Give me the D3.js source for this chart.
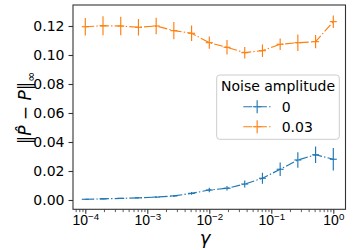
<!DOCTYPE html>
<html>
<head>
<meta charset="utf-8">
<script src="https://cdn.jsdelivr.net/npm/d3@7"></script>
<style>
  body { margin: 0; background: #fff; }
  svg { display: block; font-family: "DejaVu Sans", sans-serif; }
</style>
</head>
<body>
<div id="chart"></div>
<script>
// gamma values (log spaced, 15 points)
var gammas = [1e-4, 1.93e-4, 3.73e-4, 7.2e-4, 1.39e-3, 2.68e-3, 5.18e-3, 1e-2,
              1.93e-2, 3.73e-2, 7.2e-2, 0.139, 0.268, 0.518, 1];

// noise amplitude 0
var errClean = [0.0005, 0.0008, 0.0011, 0.0015, 0.0020, 0.0028, 0.0046, 0.0069,
                0.0081, 0.0110, 0.0150, 0.0212, 0.0276, 0.0312, 0.0281];
var sdClean = [0.0002, 0.0002, 0.0003, 0.0004, 0.0005, 0.0006, 0.0010, 0.0016,
               0.0015, 0.0024, 0.0038, 0.0047, 0.0054, 0.0057, 0.0078];

// noise amplitude 0.03
var errNoisy = [0.1195, 0.1202, 0.1200, 0.1191, 0.1200, 0.1168, 0.1150, 0.1085,
                0.1053, 0.1016, 0.1030, 0.1074, 0.1085, 0.1092, 0.1230];
var sdNoisy = [0.0060, 0.0066, 0.0064, 0.0057, 0.0057, 0.0059, 0.0053, 0.0042,
               0.0050, 0.0040, 0.0043, 0.0040, 0.0057, 0.0046, 0.0043];

var seriesNames = ["0", "0.03"];
var seriesColors = ["#1f77b4", "#ff7f0e"];

var xMajor = [1e-4, 1e-3, 1e-2, 1e-1, 1];
var xExp = ["\u22124", "\u22123", "\u22122", "\u22121", "0"];
var yTicks = [0, 0.02, 0.04, 0.06, 0.08, 0.10, 0.12];

var width = 353, height = 250;
var frame = { left: 73, right: 345.5, top: 5, bottom: 209.3 };

var svg = d3.select("#chart")
    .append("svg")
    .attr("width", width)
    .attr("height", height);

var x = d3.scaleLog()
    .domain([1e-4, 1])
    .range([85.3, 333.3]);

var y = d3.scaleLinear()
    .domain([0, 0.12])
    .range([200, 26]);

// minor ticks inside the frame
var xMinor = [];
[1e-5, 1e-4, 1e-3, 1e-2, 1e-1].forEach(function(d) {
    for (var k = 2; k < 10; k++) {
        var v = d * k;
        var px = x(v);
        if (px > frame.left && px < frame.right) xMinor.push(v);
    }
});

var dash = "8.9,2.2,1.4,2.2";
var lw = 1.15;

// series
var data = [
    { name: seriesNames[0], color: seriesColors[0], vals: errClean, sd: sdClean },
    { name: seriesNames[1], color: seriesColors[1], vals: errNoisy, sd: sdNoisy }
];

var line = d3.line()
    .x(function(d) { return x(d.g); })
    .y(function(d) { return y(d.v); });

data.forEach(function(s) {
    var pts = gammas.map(function(g, i) { return { g: g, v: s.vals[i], e: s.sd[i] }; });
    var g = svg.append("g");
    g.append("path")
        .datum(pts)
        .attr("d", line)
        .attr("fill", "none")
        .attr("stroke", s.color)
        .attr("stroke-width", lw)
        .attr("stroke-dasharray", dash);
    g.selectAll(".eb")
        .data(pts)
        .enter().append("line")
        .attr("x1", function(d) { return x(d.g); })
        .attr("x2", function(d) { return x(d.g); })
        .attr("y1", function(d) { return y(d.v - d.e); })
        .attr("y2", function(d) { return y(d.v + d.e); })
        .attr("stroke", s.color)
        .attr("stroke-width", lw);
    // short horizontal marker at each point
    g.selectAll(".mk")
        .data(pts)
        .enter().append("path")
        .attr("d", function(d) {
            var cx = x(d.g), cy = y(d.v), r = 3.5;
            return "M" + (cx - r) + "," + cy + "H" + (cx + r);
        })
        .attr("stroke", s.color)
        .attr("stroke-width", lw);
});

// frame
svg.append("rect")
    .attr("x", frame.left)
    .attr("y", frame.top)
    .attr("width", frame.right - frame.left)
    .attr("height", frame.bottom - frame.top)
    .attr("fill", "none")
    .attr("stroke", "#333")
    .attr("stroke-width", 1.1);

// x axis
var xAxisMinor = d3.axisBottom(x)
    .tickValues(xMinor)
    .tickSize(2.8)
    .tickFormat("");
var gxm = svg.append("g")
    .attr("transform", "translate(0," + frame.bottom + ")")
    .call(xAxisMinor);
gxm.select(".domain").remove();
gxm.selectAll("line").attr("stroke", "#333").attr("stroke-width", 0.8);

var xAxis = d3.axisBottom(x)
    .tickValues(xMajor)
    .tickSize(4.5)
    .tickFormat("");
var gx = svg.append("g")
    .attr("transform", "translate(0," + frame.bottom + ")")
    .call(xAxis);
gx.select(".domain").remove();
gx.selectAll("line").attr("stroke", "#333").attr("stroke-width", 1.1);

gx.selectAll(".tick").each(function(d, i) {
    var t = d3.select(this).append("text")
        .attr("fill", "#000")
        .attr("font-size", 14)
        .attr("text-anchor", "middle")
        .attr("y", 16.2);
    t.append("tspan").text("10");
    t.append("tspan")
        .attr("font-size", 9.7)
        .attr("dy", -5.6)
        .text(xExp[i]);
});

// y axis
var yAxis = d3.axisLeft(y)
    .tickValues(yTicks)
    .tickSize(4.5)
    .tickPadding(4)
    .tickFormat(d3.format(".2f"));
var gy = svg.append("g")
    .attr("transform", "translate(" + frame.left + ",0)")
    .call(yAxis);
gy.select(".domain").remove();
gy.selectAll("line").attr("stroke", "#333").attr("stroke-width", 1.1);
gy.selectAll("text")
    .attr("fill", "#000")
    .attr("font-size", 14)
    .attr("font-family", "DejaVu Sans");

// axis labels
svg.append("text")
    .attr("x", 205)
    .attr("y", 244)
    .attr("text-anchor", "middle")
    .attr("font-size", 18)
    .attr("font-style", "italic")
    .text("\u03b3");

var yl = svg.append("text")
    .attr("transform", "translate(31,108) rotate(-90)")
    .attr("text-anchor", "middle")
    .attr("font-size", 17);
yl.append("tspan").text("\u2016");
yl.append("tspan").attr("font-style", "italic").text("P\u0302");
yl.append("tspan").text(" \u2212 ");
yl.append("tspan").attr("font-style", "italic").text("P");
yl.append("tspan").text("\u2016");
yl.append("tspan").attr("font-size", 12).attr("dy", 3.5).text("\u221e");

// legend
var lg = svg.append("g").attr("transform", "translate(216.7,75)");
lg.append("rect")
    .attr("width", 122.6)
    .attr("height", 64.3)
    .attr("rx", 3)
    .attr("fill", "#fff")
    .attr("fill-opacity", 0.8)
    .attr("stroke", "#ccc")
    .attr("stroke-width", 1);
lg.append("text")
    .attr("x", 61.3)
    .attr("y", 16)
    .attr("text-anchor", "middle")
    .attr("font-size", 14)
    .text("Noise amplitude");

data.forEach(function(s, i) {
    var cy = 31.7 + i * 20;
    var x0 = 26.6, x1 = 54.3, cx = (x0 + x1) / 2;
    lg.append("line")
        .attr("x1", x0).attr("x2", x1)
        .attr("y1", cy).attr("y2", cy)
        .attr("stroke", s.color)
        .attr("stroke-width", lw)
        .attr("stroke-dasharray", dash);
    lg.append("path")
        .attr("d", "M" + (cx - 4.2) + "," + cy + "H" + (cx + 4.2) + "M" + cx + "," + (cy - 6.5) + "V" + (cy + 6.5))
        .attr("stroke", s.color)
        .attr("stroke-width", lw);
    lg.append("text")
        .attr("x", 65)
        .attr("y", cy + 5)
        .attr("font-size", 14)
        .text(s.name);
});
</script>
</body>
</html>
